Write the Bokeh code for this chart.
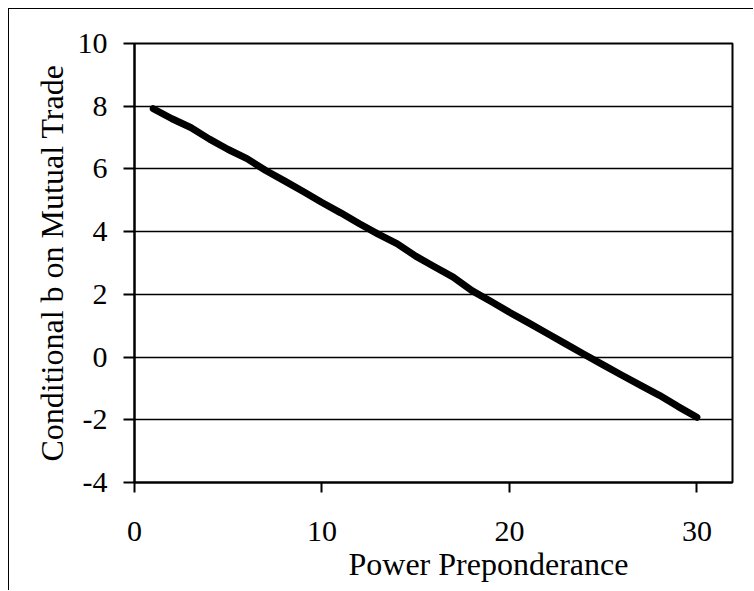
from bokeh.plotting import figure
from bokeh.models import FixedTicker, Range1d, Title
from bokeh.embed import file_html
from bokeh.resources import INLINE

# Data
power = list(range(1, 31))
cond_b = [7.92, 7.60, 7.32, 6.95, 6.62, 6.33, 5.95, 5.62, 5.28, 4.93,
          4.60, 4.25, 3.92, 3.62, 3.22, 2.88, 2.55, 2.12, 1.78, 1.43,
          1.10, 0.76, 0.42, 0.08, -0.25, -0.58, -0.90, -1.22, -1.58, -1.92]
x_ticks = [0, 10, 20, 30]
y_ticks = [-4, -2, 0, 2, 4, 6, 8, 10]
y_tick_labels = ["-4", "-2", "0", "2", "4", "6", "8", "10"]
x_title = "Power Preponderance"
y_title = "Conditional b on Mutual Trade"

FONT = "Liberation Serif"

p = figure(width=745, height=582, output_backend="svg", toolbar_location=None,
           x_range=Range1d(0, 31.9), y_range=Range1d(-4, 10),
           min_border_left=125, min_border_top=34, min_border_right=22, min_border_bottom=109)
p.styles = {"margin-left": "8px", "margin-top": "8px",
            "border-left": "1px solid black", "border-top": "1px solid black"}

p.line(power, cond_b, line_color="black", line_width=7, line_cap="round", line_join="round")

p.outline_line_color = "black"
p.outline_line_width = 2
p.outline_line_alpha = 1

p.xgrid.grid_line_color = None
p.ygrid.grid_line_color = "black"
p.ygrid.grid_line_width = 1.3
p.ygrid.grid_line_alpha = 1

p.xaxis.ticker = FixedTicker(ticks=x_ticks)
p.yaxis.ticker = FixedTicker(ticks=y_ticks)
p.yaxis.major_label_overrides = dict(zip(y_ticks, y_tick_labels))
for ax in (p.xaxis[0], p.yaxis[0]):
    ax.axis_line_color = "black"
    ax.axis_line_width = 2
    ax.major_tick_line_color = "black"
    ax.major_tick_line_width = 2
    ax.major_tick_in = 0
    ax.minor_tick_line_color = None
    ax.major_label_text_font = FONT
    ax.major_label_text_font_size = "30px"
    ax.major_label_text_color = "black"
    ax.axis_label_text_font = FONT
    ax.axis_label_text_font_size = "32px"
    ax.axis_label_text_font_style = "normal"
    ax.axis_label_text_color = "black"

p.xaxis.major_tick_out = 10
p.yaxis.major_tick_out = 11
p.xaxis.major_label_standoff = 29
p.yaxis.major_label_standoff = 16
p.yaxis.axis_label = y_title
p.yaxis.axis_label_standoff = 5

xt = Title(text=x_title, align="left", offset=214, text_font=FONT, text_font_size="32px",
           text_font_style="normal", text_color="black", standoff=0)
p.add_layout(xt, "below")

open("out.html", "w").write(file_html(p, INLINE))
